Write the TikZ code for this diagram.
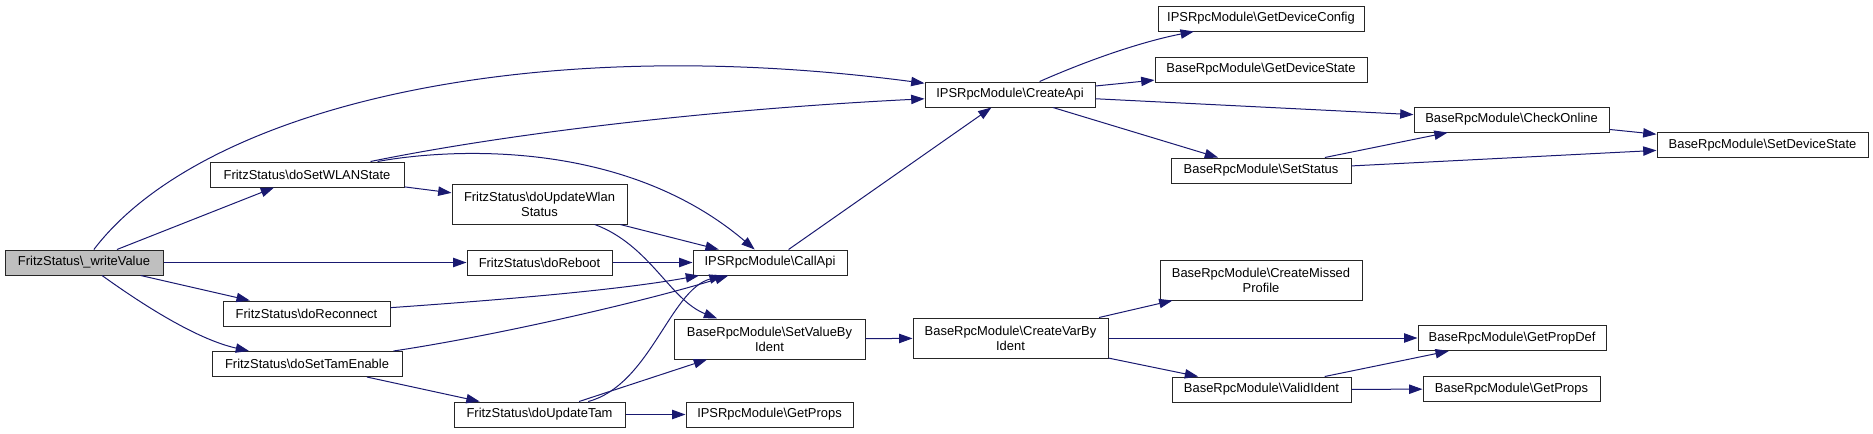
\documentclass[tikz,border=0pt]{standalone}
\usepackage{fontspec}
\setmainfont{Liberation Sans}
\usepackage{xcolor}
\usetikzlibrary{arrows.meta}
\definecolor{edgeblue}{HTML}{191970}
\definecolor{rootgray}{HTML}{BFBFBF}

\begin{document}
\begin{tikzpicture}[x=0.75pt,y=-0.75pt,
  fn/.style={draw=black!85,line width=0.75pt,fill=white,inner sep=0pt,minimum height=18.75pt,align=center,font=\fontsize{9.7pt}{11.25pt}\selectfont},
  fntwo/.style={fn,minimum height=30pt},
  call/.style={draw=edgeblue,line width=0.75pt,-{Triangle[length=10pt,width=7pt]}}]
\useasboundingbox (0,0) rectangle (1873,433);
\node[fn,fill=rootgray,minimum width=118.5pt] (wv) at (84,262.5) {FritzStatus\textbackslash\_writeValue};
\node[fn,minimum width=145.5pt] (wlan) at (307,174.5) {FritzStatus\textbackslash doSetWLANState};
\node[fn,minimum width=125.25pt] (reconn) at (306.5,313.5) {FritzStatus\textbackslash doReconnect};
\node[fn,minimum width=142.5pt] (tamen) at (307,364) {FritzStatus\textbackslash doSetTamEnable};
\node[fntwo,minimum width=131.25pt] (updwlan) at (539.5,204) {FritzStatus\textbackslash doUpdateWlan\\Status};
\node[fn,minimum width=108.75pt] (reboot) at (539.5,262.5) {FritzStatus\textbackslash doReboot};
\node[fn,minimum width=128.25pt] (updtam) at (539.5,414.5) {FritzStatus\textbackslash doUpdateTam};
\node[fn,minimum width=115.5pt] (callapi) at (770,262.5) {IPSRpcModule\textbackslash CallApi};
\node[fntwo,minimum width=143.25pt] (setval) at (769.5,339) {BaseRpcModule\textbackslash SetValueBy\\Ident};
\node[fn,minimum width=125.25pt] (ipsprops) at (769.5,414.5) {IPSRpcModule\textbackslash GetProps};
\node[fn,minimum width=127.5pt] (createapi) at (1010,94.5) {IPSRpcModule\textbackslash CreateApi};
\node[fntwo,minimum width=146.25pt] (createvar) at (1010.5,338) {BaseRpcModule\textbackslash CreateVarBy\\Ident};
\node[fn,minimum width=154.5pt] (devconf) at (1261,18.5) {IPSRpcModule\textbackslash GetDeviceConfig};
\node[fn,minimum width=159pt] (devstate) at (1261,69.5) {BaseRpcModule\textbackslash GetDeviceState};
\node[fn,minimum width=135pt] (setstatus) at (1261,170.5) {BaseRpcModule\textbackslash SetStatus};
\node[fntwo,minimum width=151.5pt] (missed) at (1261,280) {BaseRpcModule\textbackslash CreateMissed\\Profile};
\node[fn,minimum width=134.25pt] (validid) at (1261.5,389.5) {BaseRpcModule\textbackslash ValidIdent};
\node[fn,minimum width=146.25pt] (checkon) at (1511.5,119.5) {BaseRpcModule\textbackslash CheckOnline};
\node[fn,minimum width=141pt] (propdef) at (1512,338) {BaseRpcModule\textbackslash GetPropDef};
\node[fn,minimum width=132.75pt] (baseprops) at (1511.5,389) {BaseRpcModule\textbackslash GetProps};
\node[fn,minimum width=158.25pt] (setdev) at (1762.5,145) {BaseRpcModule\textbackslash SetDeviceState};

\draw[call] (wv) .. controls (200,110) and (520,30) .. (createapi);
\draw[call] (wv) -- (wlan);
\draw[call] (wv) -- (reboot);
\draw[call] (wv) -- (reconn);
\draw[call] (wv) .. controls (150,310) and (200,340) .. (tamen);
\draw[call] (wlan) .. controls (500,135) and (700,110) .. (createapi);
\draw[call] (wlan) .. controls (440,150) and (620,135) .. (callapi);
\draw[call] (wlan) -- (updwlan);
\draw[call] (updwlan) -- (callapi);
\draw[call] (updwlan) .. controls (650,245) and (670,300) .. (setval);
\draw[call] (reboot) -- (callapi);
\draw[call] (reconn) .. controls (500,300) and (620,290) .. (callapi);
\draw[call] (tamen) .. controls (500,335) and (650,300) .. (callapi);
\draw[call] (tamen) -- (updtam);
\draw[call] (updtam) .. controls (650,385) and (670,290) .. (callapi);
\draw[call] (updtam) -- (setval);
\draw[call] (updtam) -- (ipsprops);
\draw[call] (setval) -- (createvar);
\draw[call] (callapi) -- (createapi);
\draw[call] (createapi) .. controls (1100,55) and (1150,40) .. (devconf);
\draw[call] (createapi) -- (devstate);
\draw[call] (createapi) -- (checkon);
\draw[call] (createapi) -- (setstatus);
\draw[call] (setstatus) -- (checkon);
\draw[call] (setstatus) -- (setdev);
\draw[call] (checkon) -- (setdev);
\draw[call] (createvar) -- (missed);
\draw[call] (createvar) -- (propdef);
\draw[call] (createvar) -- (validid);
\draw[call] (validid) -- (propdef);
\draw[call] (validid) -- (baseprops);
\end{tikzpicture}
\end{document}
